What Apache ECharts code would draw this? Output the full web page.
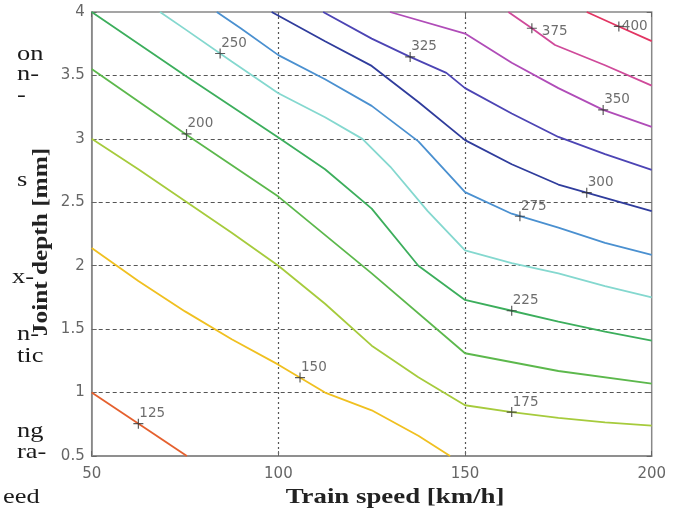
<!DOCTYPE html>
<html>
<head>
<meta charset="utf-8">
<script src="https://cdn.jsdelivr.net/npm/echarts@6/dist/echarts.min.js"></script>
<style>html,body{margin:0;padding:0;background:#fff}#c{width:695px;height:511px}</style>
</head>
<body>
<div id="c"></div>
<script>
// ---- data ----
const xTicks = [50, 100, 150, 200];
const yTicks = [0.5, 1, 1.5, 2, 2.5, 3, 3.5, 4];
const levels = ['125','150','175','200','225','250','275','300','325','350','375','400'];

const line125 = [[50,1.0],[75.5,0.5]];
const line150 = [[50,2.14],[62.5,1.88],[75,1.64],[87.5,1.42],[100,1.22],[112.5,1.0],[125,0.86],[137.5,0.66],[146,0.5]];
const line175 = [[50,3.0],[62.5,2.76],[75,2.51],[87.5,2.26],[100,2.0],[112.5,1.7],[125,1.37],[137.5,1.12],[150,0.9],[162.5,0.846],[175,0.8],[187.5,0.765],[200,0.74]];
const line200 = [[50,3.55],[75,3.04],[100,2.545],[125,1.94],[150,1.31],[175,1.17],[200,1.07]];
const line225 = [[50,4.0],[75,3.5],[100,3.01],[112.5,2.76],[125,2.45],[137.5,2.0],[150,1.73],[162.5,1.645],[175,1.56],[187.5,1.48],[200,1.41]];
const line250 = [[68.3,4.0],[75,3.865],[87.5,3.61],[100,3.36],[112.5,3.17],[122.5,3.0],[130,2.78],[140,2.43],[150,2.12],[162.5,2.02],[175,1.94],[187.5,1.84],[200,1.75]];
const line275 = [[83.5,4.0],[90,3.87],[100,3.66],[112.5,3.47],[125,3.26],[137.5,2.98],[150,2.58],[162.5,2.41],[175,2.3],[187.5,2.18],[200,2.085]];
const line300 = [[98.2,4.0],[112.5,3.77],[125,3.575],[137.5,3.29],[150,2.99],[162.5,2.8],[175,2.64],[187.5,2.535],[200,2.43]];
const line325 = [[112,4.0],[125,3.79],[135,3.65],[145,3.52],[150,3.4],[162.5,3.2],[175,3.015],[187.5,2.88],[200,2.755]];
const line350 = [[129.9,4.0],[150,3.83],[162.5,3.6],[175,3.4],[187,3.228],[200,3.095]];
const line375 = [[161.6,4.0],[167.9,3.872],[174.1,3.74],[187.5,3.58],[200,3.42]];
const line400 = [[182.6,4.0],[191.2,3.886],[200,3.77]];

const labelX = [62.5, 105.8, 162.5, 75.4, 162.5, 84.4, 164.7, 182.6, 135.3, 187, 167.9, 191.2];
const labelY = [0.755, 1.118, 0.846, 3.039, 1.645, 3.673, 2.39, 2.576, 3.646, 3.228, 3.872, 3.886];
const labelText = levels;

const sideText = ['on','n-','-','s','x-','n-','tic','ng','ra-','eed'];

// ---- styles ----
const lines = [line125,line150,line175,line200,line225,line250,line275,line300,line325,line350,line375,line400];
const colors = ['#e5602e','#f0c020','#a6cb3c','#5cb84c','#3cae5c','#84d8cf','#4a90d0','#2f3c9c','#4c44b4','#b04cb8','#cf4a9a','#e23462'];
const labelOffsets = {'375':[10,3], '400':[3,0]};
const sidePos = [[17,54],[17,74],[17,95],[17,180],[12,277],[17,334],[17,356],[17,431],[17,452],[3,497]];

const series = lines.map((d, i) => ({
  type: 'line', name: levels[i], data: d, showSymbol: false, symbol: 'none',
  lineStyle: { color: colors[i], width: 1.8 }, clip: true, z: 3, silent: true, animation: false
}));

const sz = 10;
series.push({
  type: 'scatter', z: 5, animation: false, silent: true,
  symbol: 'path://M4.4,0H5.6V4.4H10V5.6H5.6V10H4.4V5.6H0V4.4H4.4Z',
  symbolSize: sz,
  itemStyle: { color: '#333' },
  data: labelX.map((x, i) => {
    const off = labelOffsets[labelText[i]] || [1, -10];
    return {
      value: [x, labelY[i]],
      label: {
        show: true, formatter: labelText[i],
        position: [sz/2 + off[0], sz/2 + off[1]],
        align: 'left', verticalAlign: 'middle',
        fontFamily: 'DejaVu Sans', fontSize: 13.5, color: '#484848'
      }
    };
  })
});

const graphics = [
  { type: 'text', x: 395, y: 497, scaleX: 1.22,
    style: { text: 'Train speed [km/h]', font: 'bold 22px "Liberation Serif"', fill: '#222', align: 'center', verticalAlign: 'middle' } },
  { type: 'text', x: 41, y: 242, rotation: Math.PI/2, scaleX: 1.15,
    style: { text: 'Joint depth [mm]', font: 'bold 22px "Liberation Serif"', fill: '#222', align: 'center', verticalAlign: 'middle' } }
];
sideText.forEach((t, i) => graphics.push({
  type: 'text', x: sidePos[i][0], y: sidePos[i][1], scaleX: 1.2,
  style: { text: t, font: '22px "Liberation Serif"', fill: '#1a1a1a', align: 'left', verticalAlign: 'middle' }
}));

const axisLabelStyle = { fontFamily: 'DejaVu Sans', fontSize: 15, color: '#666' };

const chart = echarts.init(document.getElementById('c'), null, { renderer: 'canvas' });
chart.setOption({
  backgroundColor: '#fff',
  animation: false,
  grid: { left: 91.7, right: 43.3, top: 12, bottom: 55, show: true, borderColor: '#888', borderWidth: 1.5, backgroundColor: '#fff' },
  xAxis: [
    { type: 'value', min: 50, max: 200, interval: 50, position: 'bottom',
      axisLine: { show: true, lineStyle: { color: '#888', width: 1.5 } },
      axisTick: { show: true, inside: true, length: 5, lineStyle: { color: '#666' } },
      axisLabel: Object.assign({ margin: 11, formatter: v => xTicks.includes(v) ? String(v) : '' }, axisLabelStyle),
      splitLine: { show: true, showMinLine: false, showMaxLine: false, lineStyle: { color: '#555', type: [2, 3], width: 1.2 } } },
    { type: 'value', min: 50, max: 200, interval: 50, position: 'top',
      axisLine: { show: false }, axisTick: { show: true, inside: true, length: 5, lineStyle: { color: '#666' } },
      axisLabel: { show: false }, splitLine: { show: false } }
  ],
  yAxis: [
    { type: 'value', min: 0.5, max: 4, interval: 0.5, position: 'left',
      axisLine: { show: true, lineStyle: { color: '#888', width: 1.5 } },
      axisTick: { show: true, inside: true, length: 5, lineStyle: { color: '#666' } },
      axisLabel: Object.assign({ margin: 7, formatter: v => yTicks.includes(v) ? String(v) : '' }, axisLabelStyle),
      splitLine: { show: true, showMinLine: false, showMaxLine: false, lineStyle: { color: '#555', type: [4, 3], width: 1.2 } } },
    { type: 'value', min: 0.5, max: 4, interval: 0.5, position: 'right',
      axisLine: { show: false }, axisTick: { show: true, inside: true, length: 5, lineStyle: { color: '#666' } },
      axisLabel: { show: false }, splitLine: { show: false } }
  ],
  series: series,
  graphic: graphics
});
</script>
</body>
</html>
